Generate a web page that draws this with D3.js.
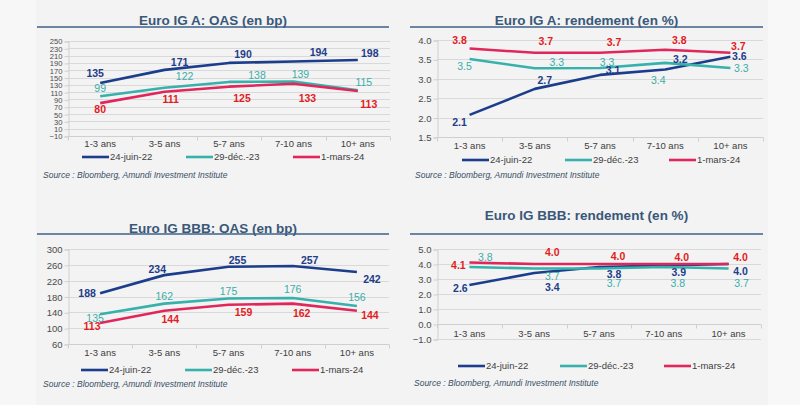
<!DOCTYPE html>
<html><head><meta charset="utf-8">
<script src="https://cdn.jsdelivr.net/npm/d3@7/dist/d3.min.js"></script>
<style>
html,body{margin:0;padding:0;background:#f3f3f3;}
svg{display:block;font-family:"Liberation Sans",Arial,sans-serif;}
</style></head><body>
<svg id="c" width="800" height="405"></svg>
<script>
// ---------- DATA ----------
const categories = ["1-3 ans","3-5 ans","5-7 ans","7-10 ans","10+ ans"];
const seriesNames = ["24-juin-22","29-déc.-23","1-mars-24"];

const titleA_OAS = "Euro IG A: OAS (en bp)";
const titleA_Yld = "Euro IG A: rendement (en %)";
const titleBBB_OAS = "Euro IG BBB: OAS (en bp)";
const titleBBB_Yld = "Euro IG BBB: rendement (en %)";
const sourceText = "Source : Bloomberg, Amundi Investment Institute";

// Euro IG A OAS (bp)
const aOAS_jun22 = [135,171,190,194,198];
const aOAS_dec23 = [99,122,138,139,115];
const aOAS_mar24 = [80,111,125,133,113];
const aOAS_ticks = [-10,10,30,50,70,90,110,130,150,170,190,210,230,250];

// Euro IG A yield (%)
const aYld_jun22 = [2.07,2.74,3.10,3.24,3.57];
const aYld_dec23 = [3.51,3.27,3.28,3.41,3.28];
const aYld_mar24 = [3.78,3.67,3.67,3.75,3.67];
const aYld_ticks = [1.5,2.0,2.5,3.0,3.5,4.0];

// Euro IG BBB OAS (bp)
const bOAS_jun22 = [188,234,255,257,242];
const bOAS_dec23 = [135,162,175,176,156];
const bOAS_mar24 = [113,144,159,162,144];
const bOAS_ticks = [60,100,140,180,220,260,300];

// Euro IG BBB yield (%)
const bYld_jun22 = [2.6,3.4,3.8,3.9,4.0];
const bYld_dec23 = [3.8,3.7,3.7,3.8,3.7];
const bYld_mar24 = [4.1,4.0,4.0,4.0,4.0];
const bYld_ticks = [-1.0,0.0,1.0,2.0,3.0,4.0,5.0];

// ---------- STYLE / LAYOUT ----------
const lineColors = ["#1b3d8c","#36b1ab","#e0265a"];
const labelColors = ["#1e3d8a","#3aaea8","#e31b23"];

const panels = [
  {title:titleA_OAS, series:[aOAS_jun22,aOAS_dec23,aOAS_mar24], ticks:aOAS_ticks, fmt:d3.format("d"), lblFmt:d3.format("d"),
   tickFont:7.6,
   x0:68,x1:390,yTop:41,yBot:136, titleY:24.5, ulX0:37, ulX1:389, ulY:27, catY:147, axisAt:-10,
   legY:157, legX:[82,186,293], srcX:43, srcY:178,
   off:[[[-5,-10],[15,-8],[14,-9],[25,-9],[12,-7]],
        [[0,-8],[20,-11],[28,-7],[7,-7],[6,-8]],
        [[0,6],[6,8],[13,12],[14,15],[11,13]]]},
  {title:titleA_Yld, series:[aYld_jun22,aYld_dec23,aYld_mar24], ticks:aYld_ticks, fmt:d3.format(".1f"), lblFmt:d3.format(".1f"),
   tickFont:9.5,
   x0:437,x1:763,yTop:40,yBot:137, titleY:24.5, ulX0:410, ulX1:763, ulY:27, catY:149, axisAt:1.5,
   legY:160, legX:[462,565,669], srcX:415, srcY:178,
   off:[[[-10,7],[10,-9],[13,-5],[15,-10],[9,0]],
        [[-5,7],[22,-6],[7,-6],[-7,17],[11,0]],
        [[-10,-8],[11,-11],[14,-10],[14,-9],[8,-6]]]},
  {title:titleBBB_OAS, series:[bOAS_jun22,bOAS_dec23,bOAS_mar24], ticks:bOAS_ticks, fmt:d3.format("d"), lblFmt:d3.format("d"),
   tickFont:9.5,
   x0:68,x1:389,yTop:249,yBot:344, titleY:232.5, ulX0:37, ulX1:389, ulY:234, catY:356, axisAt:60,
   legY:370, legX:[81,185,292], srcX:43, srcY:387,
   off:[[[-13,0],[-7,-6],[9,-6],[17,-6],[15,7]],
        [[-5,4],[0,-7],[0,-7],[0,-9],[0,-9]],
        [[-8,3],[6,9],[15,8],[9,10],[13,5]]]},
  {title:titleBBB_Yld, series:[bYld_jun22,bYld_dec23,bYld_mar24], ticks:bYld_ticks, fmt:d3.format(".1f"), lblFmt:d3.format(".1f"),
   tickFont:9.5,
   x0:437,x1:761,yTop:249,yBot:339, titleY:219.5, ulX0:410, ulX1:763, ulY:234, catY:337, axisAt:0,
   legY:366, legX:[458,560,664], srcX:414, srcY:386,
   off:[[[-9,3],[18,14],[15,7],[15,7],[12,7]],
        [[16,-10],[18,8],[15,15],[14,16],[13,15]],
        [[-11,3],[18,-12],[19,-8],[18,-7],[12,-7]]]}
];

const svg = d3.select("#c");
// subtle background strips
svg.append("rect").attr("x",0).attr("y",0).attr("width",800).attr("height",405).attr("fill","#f3f3f3");
svg.append("rect").attr("x",0).attr("y",0).attr("width",36).attr("height",405).attr("fill","#f7f7f7");
svg.append("rect").attr("x",768).attr("y",0).attr("width",32).attr("height",405).attr("fill","#f8f8f8");

panels.forEach(p => {
  const g = svg.append("g");
  const x = d3.scaleBand().domain(categories).range([p.x0,p.x1]).padding(0);
  const y = d3.scaleLinear().domain(d3.extent(p.ticks)).range([p.yBot,p.yTop]);

  // title
  g.append("text").attr("x",(p.ulX0+p.ulX1)/2).attr("y",p.titleY).attr("text-anchor","middle")
    .attr("font-size",13.5).attr("font-weight","bold").attr("fill","#3a5878").text(p.title);
  g.append("line").attr("x1",p.ulX0).attr("x2",p.ulX1).attr("y1",p.ulY).attr("y2",p.ulY)
    .attr("stroke","#3f6189").attr("stroke-width",1.6);

  // gridlines
  g.append("g").selectAll("line").data(p.ticks).join("line")
    .attr("x1",p.x0).attr("x2",p.x1).attr("y1",d=>Math.round(y(d))+0.5).attr("y2",d=>Math.round(y(d))+0.5)
    .attr("stroke","#d9d9d9").attr("stroke-width",1);

  // y axis
  const yAxis = d3.axisLeft(y).tickValues(p.ticks).tickFormat(p.fmt).tickSize(4).tickPadding(2);
  const ya = g.append("g").attr("transform",`translate(${p.x0+0.5},0.5)`).call(yAxis);
  ya.select(".domain").attr("stroke","#cfcfcf");
  ya.selectAll(".tick line").attr("stroke","#cfcfcf");
  ya.selectAll("text").attr("font-size",p.tickFont).attr("fill","#4a4a4a").attr("font-family","Liberation Sans, Arial, sans-serif");

  // x axis line + ticks between categories
  const ax = Math.round(y(p.axisAt))+0.5;
  g.append("line").attr("x1",p.x0).attr("x2",p.x1).attr("y1",ax).attr("y2",ax).attr("stroke","#cfcfcf");
  const bounds = categories.map(c=>x(c)).concat([p.x1]);
  g.append("g").selectAll("line").data(bounds).join("line")
    .attr("x1",d=>Math.round(d)+0.5).attr("x2",d=>Math.round(d)+0.5).attr("y1",ax).attr("y2",ax+4)
    .attr("stroke","#cfcfcf");
  g.append("g").selectAll("text").data(categories).join("text")
    .attr("x",d=>x(d)+x.bandwidth()/2).attr("y",p.catY).attr("text-anchor","middle")
    .attr("font-size",9.5).attr("fill","#404040").text(d=>d);

  // lines
  const line = d3.line().x((d,i)=>x(categories[i])+x.bandwidth()/2).y(d=>y(d));
  p.series.forEach((s,si)=>{
    g.append("path").datum(s).attr("d",line).attr("fill","none")
      .attr("stroke",lineColors[si]).attr("stroke-width",2.6).attr("stroke-linejoin","round");
  });
  // labels
  p.series.forEach((s,si)=>{
    g.append("g").selectAll("text").data(s).join("text")
      .attr("x",(d,i)=>x(categories[i])+x.bandwidth()/2+p.off[si][i][0])
      .attr("y",(d,i)=>y(d)+p.off[si][i][1])
      .attr("dy","0.35em").attr("text-anchor","middle")
      .attr("font-size",10.5).attr("font-weight", si===1?"normal":"bold")
      .attr("fill",labelColors[si]).text(d=>p.lblFmt(d));
  });

  // legend
  seriesNames.forEach((n,si)=>{
    const lx = p.legX[si];
    g.append("line").attr("x1",lx).attr("x2",lx+27).attr("y1",p.legY).attr("y2",p.legY)
      .attr("stroke",lineColors[si]).attr("stroke-width",2.6);
    g.append("text").attr("x",lx+28).attr("y",p.legY).attr("dy","0.35em")
      .attr("font-size",9.5).attr("fill","#404040").text(n);
  });

  // source
  g.append("text").attr("x",p.srcX).attr("y",p.srcY).attr("font-size",8.5).attr("font-style","italic")
    .attr("fill","#3a4f66").text(sourceText);
});
</script>
</body></html>
